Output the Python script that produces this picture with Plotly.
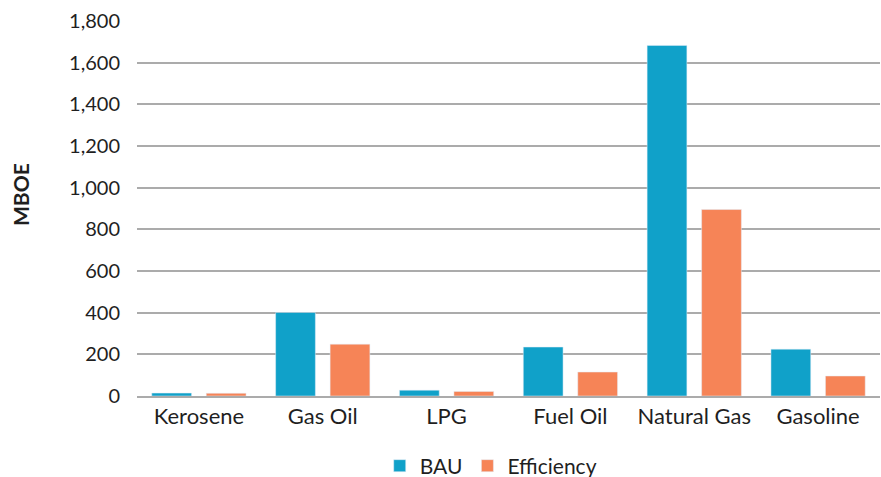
import plotly.graph_objects as go

categories = ["Kerosene", "Gas Oil", "LPG", "Fuel Oil", "Natural Gas", "Gasoline"]
bau = [14, 401, 28, 235, 1683, 225]
efficiency = [13, 249, 22, 115, 895, 96]
y_ticks = [0, 200, 400, 600, 800, 1000, 1200, 1400, 1600, 1800]

font_family = "Lato, 'Open Sans', sans-serif"
text_color = "#1f1f1f"

fig = go.Figure()
fig.add_trace(go.Bar(name="BAU", x=categories, y=bau, marker_color="#10A1C9"))
fig.add_trace(go.Bar(name="Efficiency", x=categories, y=efficiency, marker_color="#F68457"))

fig.update_layout(
    width=881,
    height=477,
    margin=dict(l=137, r=1, t=21, b=81, autoexpand=False),
    paper_bgcolor="white",
    plot_bgcolor="white",
    barmode="group",
    bargap=0.12,
    bargroupgap=0.27,
    font=dict(family=font_family, size=20, color=text_color),
    showlegend=True,
    legend=dict(
        orientation="h",
        x=0.557,
        xanchor="center",
        xref="container",
        y=0.023,
        yanchor="middle",
        yref="container",
        font=dict(size=21, color=text_color),
        itemwidth=30,
        traceorder="normal",
    ),
    xaxis=dict(
        showgrid=False,
        showline=True,
        linecolor="#ABABAB",
        linewidth=2,
        ticks="",
        tickfont=dict(size=22, color=text_color),
    ),
    yaxis=dict(
        range=[0, 1800],
        tickvals=y_ticks,
        tickformat=",d",
        showgrid=True,
        gridcolor="#ABABAB",
        gridwidth=2,
        zeroline=False,
        ticks="outside",
        ticklen=12,
        tickcolor="rgba(0,0,0,0)",
        tickfont=dict(size=20, color=text_color),
    ),
    annotations=[
        dict(
            text="<b>MBOE</b>",
            textangle=-90,
            xref="paper",
            yref="paper",
            x=-117 / 743,
            y=(396 - 195) / 375,
            xanchor="center",
            yanchor="middle",
            showarrow=False,
            font=dict(size=21, color=text_color),
        )
    ],
)

fig.write_html("out.html")
